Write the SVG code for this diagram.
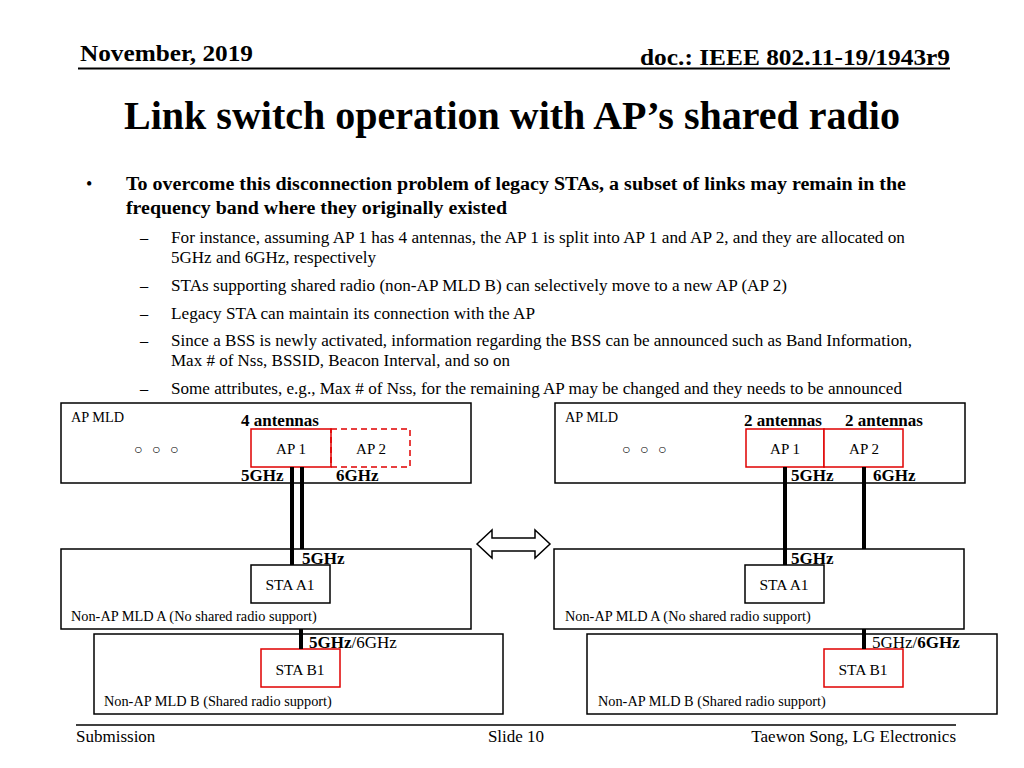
<svg xmlns="http://www.w3.org/2000/svg" width="1024" height="768" viewBox="0 0 1024 768">
<style>
text{font-family:"Liberation Serif","Times New Roman",serif;fill:#000}
.b{font-weight:bold}
.box{fill:#fff;stroke:#000;stroke-width:1.5}
.red{fill:#fff;stroke:#e00000;stroke-width:1.5}
.dash{fill:none;stroke:#e00000;stroke-width:1.5;stroke-dasharray:6,4}
.sub{font-size:16.3px}
.sm{font-size:14.3px}
.lbl{font-size:17px;font-weight:bold}
.mid{font-size:15px;text-anchor:middle}
.sta{font-size:15.5px;text-anchor:middle}
.link{stroke:#000;stroke-width:4;fill:none}
</style>
<rect width="1024" height="768" fill="#fff"/>
<g id="header">
<text x="80" y="61" class="b" font-size="24" textLength="173" lengthAdjust="spacingAndGlyphs">November, 2019</text>
<text x="640" y="65" class="b" font-size="24" textLength="310" lengthAdjust="spacingAndGlyphs">doc.: IEEE 802.11-19/1943r9</text>
<line x1="78" y1="68.5" x2="950" y2="68.5" stroke="#000" stroke-width="2"/>
<text x="124" y="129" class="b" font-size="39" textLength="776" lengthAdjust="spacingAndGlyphs">Link switch operation with AP’s shared radio</text>
</g>
<g id="body">
<text x="86" y="190" font-size="18">•</text>
<text x="126" y="190" class="b" font-size="18.5" textLength="780" lengthAdjust="spacingAndGlyphs">To overcome this disconnection problem of legacy STAs, a subset of links may remain in the</text>
<text x="126" y="214" class="b" font-size="18.5" textLength="381" lengthAdjust="spacingAndGlyphs">frequency band where they originally existed</text>
<g class="sub">
<text x="140" y="243">–</text>
<text x="171" y="243" textLength="734" lengthAdjust="spacingAndGlyphs">For instance, assuming AP 1 has 4 antennas, the AP 1 is split into AP 1 and AP 2, and they are allocated on</text>
<text x="171" y="263" textLength="205" lengthAdjust="spacingAndGlyphs">5GHz and 6GHz, respectively</text>
<text x="140" y="291">–</text>
<text x="171" y="291" textLength="616" lengthAdjust="spacingAndGlyphs">STAs supporting shared radio (non-AP MLD B) can selectively move to a new AP (AP 2)</text>
<text x="140" y="319">–</text>
<text x="171" y="319" textLength="364" lengthAdjust="spacingAndGlyphs">Legacy STA can maintain its connection with the AP</text>
<text x="140" y="346">–</text>
<text x="171" y="346" textLength="741" lengthAdjust="spacingAndGlyphs">Since a BSS is newly activated, information regarding the BSS can be announced such as Band Information,</text>
<text x="171" y="366" textLength="339" lengthAdjust="spacingAndGlyphs">Max # of Nss, BSSID, Beacon Interval, and so on</text>
<text x="140" y="394">–</text>
<text x="171" y="394" textLength="731" lengthAdjust="spacingAndGlyphs">Some attributes, e.g., Max # of Nss, for the remaining AP may be changed and they needs to be announced</text>
</g>
</g>
<!-- Left scenario -->
<g id="left-ap-mld">
<rect x="61" y="403" width="410" height="80" class="box"/>
<text x="71" y="422" class="sm">AP MLD</text>
<text x="134" y="454" font-size="14" letter-spacing="3">○ ○ ○</text>
<text x="241" y="426" class="lbl">4 antennas</text>
<text x="241" y="481" class="lbl">5GHz</text>
<text x="336" y="481" class="lbl">6GHz</text>
</g>
<g id="left-ap1">
<rect x="251" y="429" width="80" height="38" class="red"/>
<text x="291" y="454" class="mid">AP 1</text>
</g>
<g id="left-ap2">
<rect x="331" y="429" width="79" height="38" class="dash"/>
<text x="371" y="454" class="mid">AP 2</text>
</g>
<g id="left-mld-a">
<rect x="61" y="549" width="410" height="80" class="box"/>
<text x="71" y="621" class="sm">Non-AP MLD A (No shared radio support)</text>
<text x="302" y="564" class="lbl">5GHz</text>
</g>
<g id="left-sta-a1">
<rect x="251" y="565" width="79" height="38" class="box"/>
<text x="290" y="590" class="sta">STA A1</text>
</g>
<g id="left-mld-b">
<rect x="94" y="634" width="409" height="80" class="box"/>
<text x="104" y="706" class="sm">Non-AP MLD B (Shared radio support)</text>
<text x="309" y="648" font-size="17"><tspan font-weight="bold">5GHz</tspan>/6GHz</text>
</g>
<g id="left-sta-b1">
<rect x="261" y="649" width="79" height="38" class="red"/>
<text x="300" y="675" class="sta">STA B1</text>
</g>
<!-- Right scenario -->
<g id="right-ap-mld">
<rect x="555" y="403" width="410" height="80" class="box"/>
<text x="565" y="422" class="sm">AP MLD</text>
<text x="622" y="454" font-size="14" letter-spacing="3">○ ○ ○</text>
<text x="744" y="426" class="lbl">2 antennas</text>
<text x="845" y="426" class="lbl">2 antennas</text>
<text x="791" y="481" class="lbl">5GHz</text>
<text x="873" y="481" class="lbl">6GHz</text>
</g>
<g id="right-ap1">
<rect x="746" y="429" width="78" height="38" class="red"/>
<text x="785" y="454" class="mid">AP 1</text>
</g>
<g id="right-ap2">
<rect x="824" y="429" width="79" height="38" class="red"/>
<text x="864" y="454" class="mid">AP 2</text>
</g>
<g id="right-mld-a">
<rect x="554" y="549" width="410" height="80" class="box"/>
<text x="565" y="621" class="sm">Non-AP MLD A (No shared radio support)</text>
<text x="791" y="564" class="lbl">5GHz</text>
</g>
<g id="right-sta-a1">
<rect x="745" y="565" width="79" height="38" class="box"/>
<text x="784" y="590" class="sta">STA A1</text>
</g>
<g id="right-mld-b">
<rect x="587" y="634" width="410" height="80" class="box"/>
<text x="598" y="706" class="sm">Non-AP MLD B (Shared radio support)</text>
<text x="872" y="648" font-size="17">5GHz/<tspan font-weight="bold">6GHz</tspan></text>
</g>
<g id="right-sta-b1">
<rect x="824" y="649" width="79" height="38" class="red"/>
<text x="863" y="675" class="sta">STA B1</text>
</g>
<g id="connectors">
<line x1="292" y1="467" x2="292" y2="565" class="link"/>
<line x1="302" y1="467" x2="302" y2="549" class="link"/>
<line x1="301" y1="629" x2="301" y2="649" class="link"/>
<line x1="785" y1="467" x2="785" y2="565" class="link"/>
<line x1="864" y1="467" x2="864" y2="549" class="link"/>
<line x1="864" y1="629" x2="864" y2="649" class="link"/>
</g>
<g id="double-arrow">
<polygon points="477,544 492,530 492,538 535,538 535,530 550,544 535,558 535,551 492,551 492,558" fill="#fff" stroke="#000" stroke-width="1.5" stroke-linejoin="miter"/>
</g>
<g id="footer">
<line x1="76" y1="725" x2="956" y2="725" stroke="#000" stroke-width="1.5"/>
<text x="76" y="742" font-size="17">Submission</text>
<text x="516" y="742" font-size="17" text-anchor="middle">Slide 10</text>
<text x="956" y="742" font-size="17" text-anchor="end">Taewon Song, LG Electronics</text>
</g>
</svg>
